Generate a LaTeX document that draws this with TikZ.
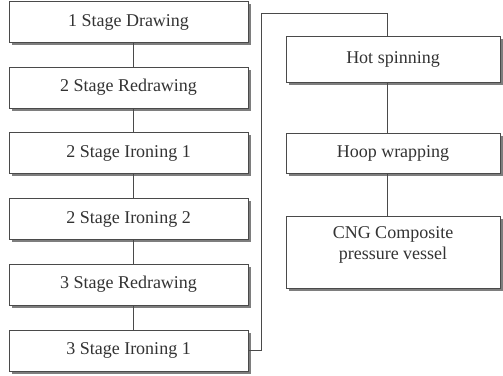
\documentclass[tikz,border=0pt]{standalone}
\usepackage{fontspec}
\setmainfont{Liberation Serif}
\usetikzlibrary{shadows}
\definecolor{linec}{HTML}{4A4A4A}
\definecolor{shadc}{HTML}{7E7E7E}
\begin{document}
\begin{tikzpicture}[x=1pt,y=-1pt,
  stepbox/.style={draw=linec, line width=0.9pt, fill=white, font=\fontsize{18}{21}\selectfont, text=black!80,
    inner sep=0pt, align=center,
    drop shadow={shadow xshift=2.5pt, shadow yshift=-2.5pt, fill=shadc, opacity=1}},
  lbox/.style={stepbox, minimum width=239pt, minimum height=41pt},
  rbox/.style={stepbox, minimum width=214pt},
  conn/.style={draw=linec, line width=0.9pt}]
\useasboundingbox (0,0) rectangle (503,375);
\coordinate (lx) at (133,0);
\coordinate (rx) at (387,0);
\node[lbox] (a) at (128.5,22) {1 Stage Drawing};
\node[lbox] (b) at (128.5,87.5) {2 Stage Redrawing};
\node[lbox] (c) at (128.5,153) {2 Stage Ironing 1};
\node[lbox] (d) at (128.5,219) {2 Stage Ironing 2};
\node[lbox] (e) at (128.5,284.5) {3 Stage Redrawing};
\node[lbox] (f) at (128.5,350.5) {3 Stage Ironing 1};
\node[rbox, minimum height=46pt] (g) at (393,59) {Hot spinning};
\node[rbox, minimum height=40pt] (h) at (393,153) {Hoop wrapping};
\node[rbox, minimum height=72pt] (i) at (393,252) {CNG Composite\\pressure vessel\\[-4pt]\mbox{}};
\coordinate (turn1) at (261,350.5);
\coordinate (turn2) at (261,13);
\coordinate (turn3) at (387,13);
\draw[conn] (a.south -| lx) -- (b.north -| lx);
\draw[conn] (b.south -| lx) -- (c.north -| lx);
\draw[conn] (c.south -| lx) -- (d.north -| lx);
\draw[conn] (d.south -| lx) -- (e.north -| lx);
\draw[conn] (e.south -| lx) -- (f.north -| lx);
\draw[conn] (f.east) -- (turn1) -- (turn2) -- (turn3) -- (g.north -| rx);
\draw[conn] (g.south -| rx) -- (h.north -| rx);
\draw[conn] (h.south -| rx) -- (i.north -| rx);
\end{tikzpicture}
\end{document}
